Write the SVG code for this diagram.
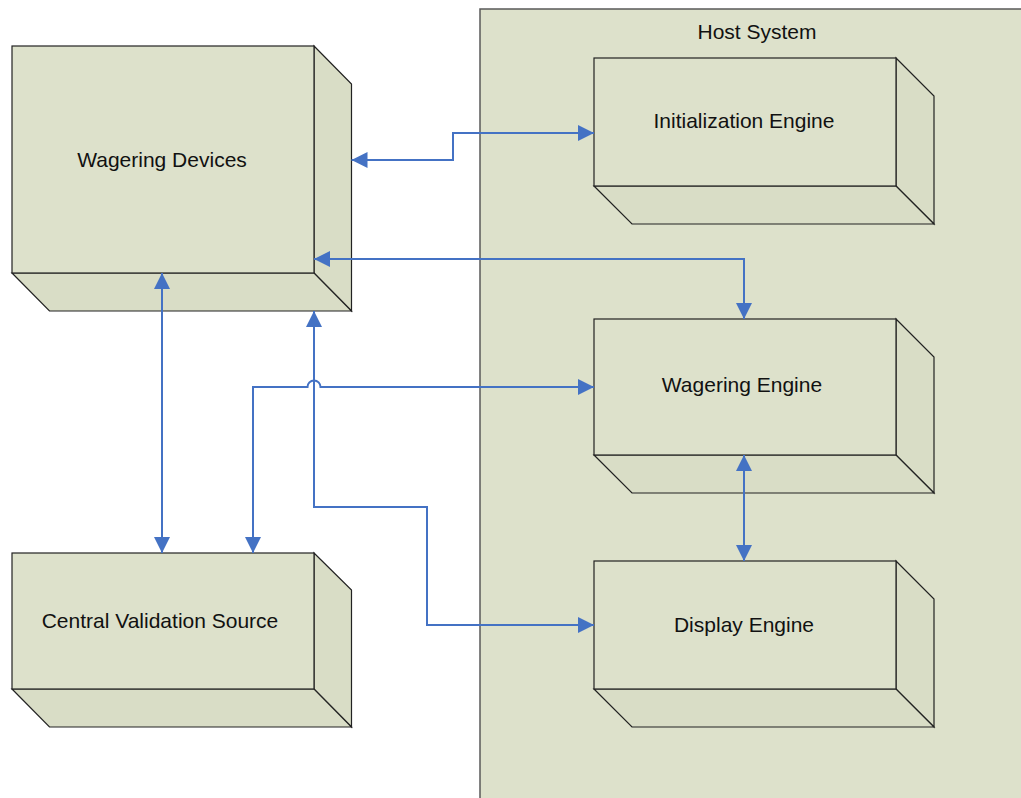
<svg xmlns="http://www.w3.org/2000/svg" width="1021" height="798" viewBox="0 0 1021 798">
<defs>
<style>
.front{fill:#DDE1CB;stroke:#222;stroke-width:1.2}
.side{fill:#D9DDC6;stroke:#222;stroke-width:1.2;stroke-linejoin:miter}
.host{fill:#DDE1CB;stroke:#5A5A5A;stroke-width:1.5}
.lbl{font-family:"Liberation Sans",Arial,sans-serif;font-size:21px;fill:#111;text-anchor:middle}
.conn{fill:none;stroke:#4472C4;stroke-width:2;marker-start:url(#ah);marker-end:url(#ah)}
</style>
<marker id="ah" markerUnits="userSpaceOnUse" markerWidth="16" markerHeight="16" refX="16" refY="8" orient="auto-start-reverse" viewBox="0 0 16 16">
<path d="M0,0 L16,8 L0,16 Z" fill="#4472C4"/>
</marker>
</defs>
<rect width="1021" height="798" fill="#FFFFFF"/>
<g id="host-system">
<rect class="host" x="480" y="9" width="560" height="800"/>
<text class="lbl" x="757" y="39">Host System</text>
</g>
<g id="wagering-devices">
<polygon class="side" points="314,46 351.5,84 351.5,311 314,273"/>
<polygon class="side" points="12,273 314,273 351.5,311 49.5,311"/>
<rect class="front" x="12" y="46" width="302" height="227"/>
<text class="lbl" x="162" y="167">Wagering Devices</text>
</g>
<g id="initialization-engine">
<polygon class="side" points="896,58 934,96 934,224 896,186"/>
<polygon class="side" points="594,186 896,186 934,224 632,224"/>
<rect class="front" x="594" y="58" width="302" height="128"/>
<text class="lbl" x="744" y="128">Initialization Engine</text>
</g>
<g id="wagering-engine">
<polygon class="side" points="896,319 934,357 934,493 896,455"/>
<polygon class="side" points="594,455 896,455 934,493 632,493"/>
<rect class="front" x="594" y="319" width="302" height="136"/>
<text class="lbl" x="742" y="392">Wagering Engine</text>
</g>
<g id="display-engine">
<polygon class="side" points="896,561 934,599 934,727 896,689"/>
<polygon class="side" points="594,689 896,689 934,727 632,727"/>
<rect class="front" x="594" y="561" width="302" height="128"/>
<text class="lbl" x="744" y="632">Display Engine</text>
</g>
<g id="central-validation-source">
<polygon class="side" points="314,553 351.5,590 351.5,727 314,689"/>
<polygon class="side" points="12,689 314,689 351.5,727 49.5,727"/>
<rect class="front" x="12" y="553" width="302" height="136"/>
<text class="lbl" x="160" y="628">Central Validation Source</text>
</g>
<g id="connectors">
<path class="conn" d="M351.5,160 H453 V133 H594"/>
<path class="conn" d="M314,259 H744 V319"/>
<path class="conn" d="M162,273 V553"/>
<path class="conn" d="M314,311 V507 H427 V625 H594"/>
<path class="conn" d="M253,553 V387 H307.5 A6.5,6.5 0 0 1 320.5,387 H594"/>
<path class="conn" d="M744,455 V561"/>
</g>
</svg>
